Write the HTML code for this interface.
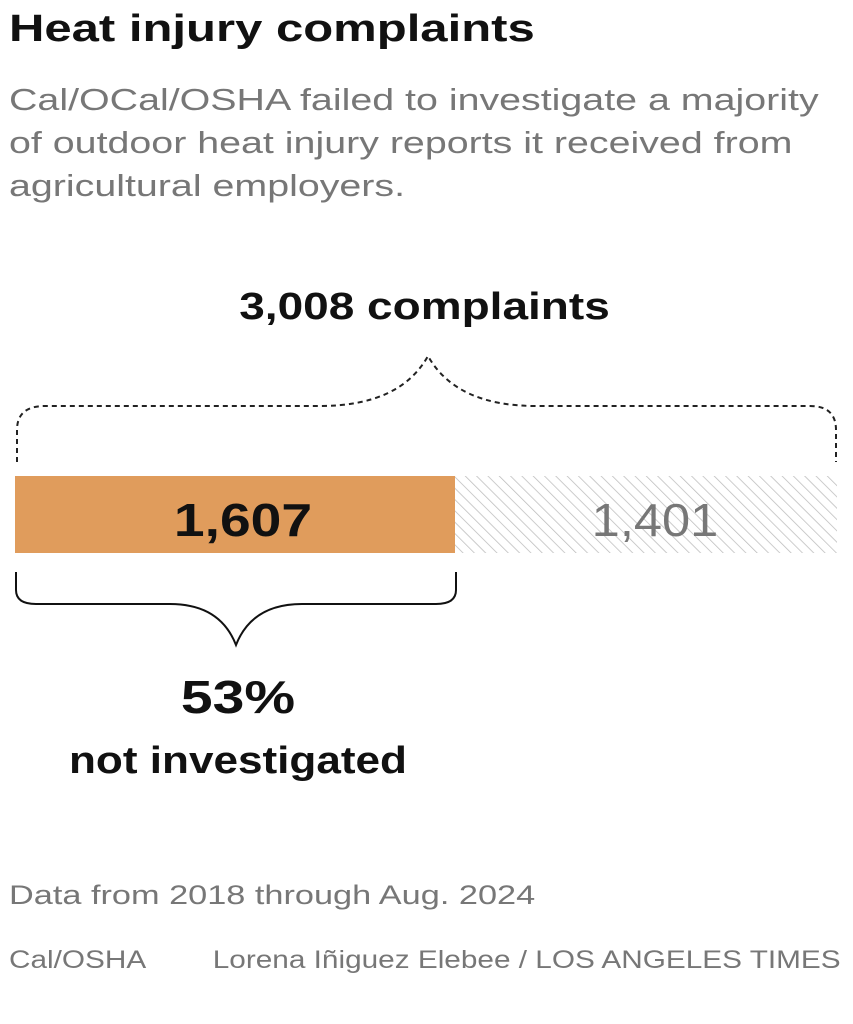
<!DOCTYPE html>
<html><head><meta charset="utf-8"><style>
body{margin:0;width:853px;height:1024px;background:#fff;font-family:"Liberation Sans",sans-serif;position:relative;overflow:hidden}
.t{position:absolute;white-space:nowrap}
.l{transform-origin:0 0}
.c{transform-origin:50% 0}
.r{transform-origin:100% 0}
</style></head><body>
<div class="t l" style="left:9px;top:8px;font-size:38px;font-weight:bold;color:#111;transform:scaleX(1.29)">Heat injury complaints</div>
<div class="t l" style="left:9px;top:78px;font-size:31px;line-height:43px;color:#777;transform:scaleX(1.27)">Cal/OCal/OSHA failed to investigate a majority<br>of outdoor heat injury reports it received from<br>agricultural employers.</div>
<div class="t c" style="left:-2px;width:853px;text-align:center;top:286px;font-size:38px;font-weight:bold;color:#111;transform:scaleX(1.21)">3,008 complaints</div>
<svg style="position:absolute;left:0;top:0" width="853" height="1024">
<defs><pattern id="h" width="8" height="8" patternUnits="userSpaceOnUse" patternTransform="rotate(-45)"><line x1="0" y1="0" x2="0" y2="8" stroke="#bbb" stroke-width="1.5"/></pattern></defs>
<path d="M17,462 V430 Q17,406 45,406 H320 Q400,406 428,356 Q456,406 536,406 H810 Q836,406 836,430 V462" fill="none" stroke="#222" stroke-width="2" stroke-dasharray="5,4"/>
<rect x="15" y="476" width="440" height="77" fill="#e09c5c"/>
<rect x="455" y="476" width="382" height="77" fill="url(#h)"/>
<path d="M16,572 V590 Q16,604 36,604 H170 Q220,604 236,645 Q252,604 302,604 H436 Q456,604 456,590 V572" fill="none" stroke="#111" stroke-width="2"/>
</svg>
<div class="t c" style="left:43px;width:400px;text-align:center;top:493px;font-size:46px;font-weight:bold;color:#111;transform:scaleX(1.2)">1,607</div>
<div class="t c" style="left:455px;width:400px;text-align:center;top:493px;font-size:46px;color:#777;transform:scaleX(1.1)">1,401</div>
<div class="t c" style="left:38px;width:400px;text-align:center;top:670px;font-size:46px;font-weight:bold;color:#111;transform:scaleX(1.24)">53%</div>
<div class="t c" style="left:38px;width:400px;text-align:center;top:740px;font-size:38px;font-weight:bold;color:#111;transform:scaleX(1.16)">not investigated</div>
<div class="t l" style="left:9px;top:880px;font-size:27px;color:#777;transform:scaleX(1.27)">Data from 2018 through Aug. 2024</div>
<div class="t l" style="left:9px;top:946px;font-size:25px;color:#777;transform:scaleX(1.19)">Cal/OSHA</div>
<div class="t r" style="right:12px;top:946px;font-size:25px;color:#777;transform:scaleX(1.19)">Lorena Iñiguez Elebee / LOS ANGELES TIMES</div>
</body></html>
